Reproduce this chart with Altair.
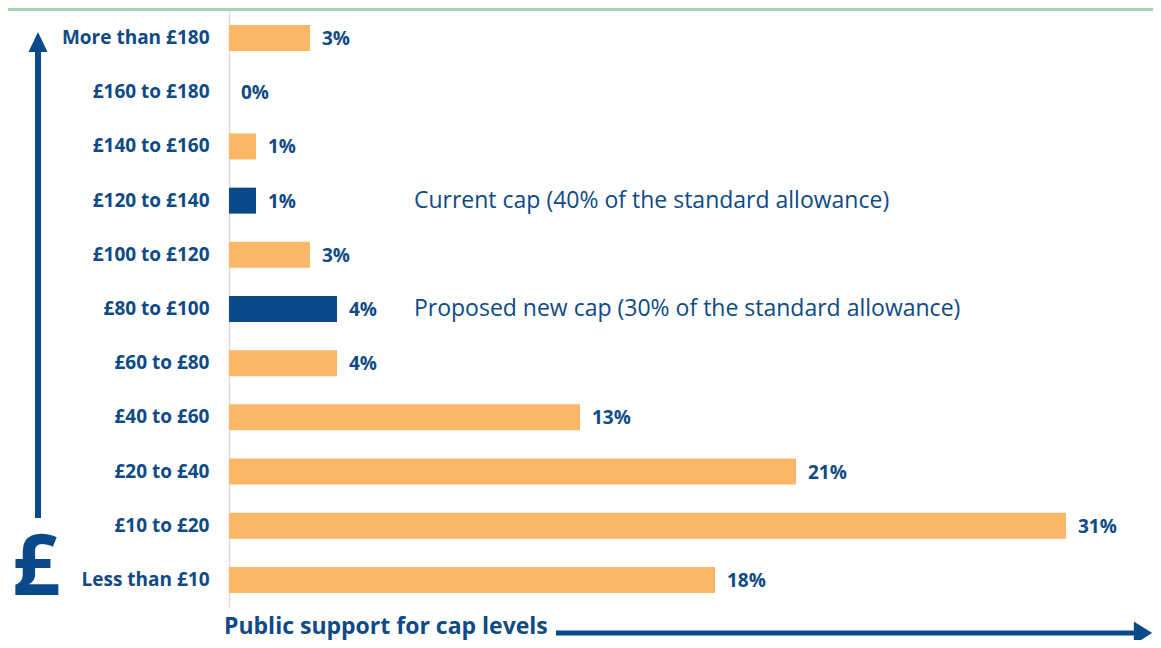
import altair as alt
import pandas as pd

categories = ["More than £180", "£160 to £180", "£140 to £160", "£120 to £140",
              "£100 to £120", "£80 to £100", "£60 to £80", "£40 to £60",
              "£20 to £40", "£10 to £20", "Less than £10"]
values = [3, 0, 1, 1, 3, 4, 4, 13, 21, 31, 18]
highlight = ["no", "no", "no", "yes", "no", "yes", "no", "no", "no", "no", "no"]
labels = [f"{v}%" for v in values]

notes_cat = ["£120 to £140", "£80 to £100"]
notes_text = ["Current cap (40% of the standard allowance)",
              "Proposed new cap (30% of the standard allowance)"]
notes_x = [6.85, 6.85]

x_title = "Public support for cap levels"

BLUE = "#0b4a8a"
ORANGE = "#fbb766"
TEXT = "#0d4a86"
FONT = "Open Sans"

df = pd.DataFrame({"cat": categories, "val": values, "hl": highlight, "lab": labels})
notes = pd.DataFrame({"cat": notes_cat, "txt": notes_text, "x": notes_x})
one = pd.DataFrame({"a": [0]})

xs = alt.Scale(domain=[0, 34])
ys = alt.Scale(domain=categories, paddingInner=0.52, paddingOuter=0.26)

bars = alt.Chart(df).mark_bar().encode(
    y=alt.Y("cat:N", scale=ys, sort=categories,
            axis=alt.Axis(title=None, ticks=False, labelPadding=20, labelFontSize=19,
                          labelFontWeight="bold", labelColor=TEXT, labelFont=FONT,
                          domainColor="#dcdcdc", domainWidth=1.5, grid=False)),
    x=alt.X("val:Q", scale=xs, axis=None),
    color=alt.Color("hl:N", scale=alt.Scale(domain=["no", "yes"], range=[ORANGE, BLUE]), legend=None),
)

vlabels = alt.Chart(df).mark_text(align="left", baseline="middle", dx=12, dy=1,
                                  fontSize=19, fontWeight="bold", color=TEXT, font=FONT).encode(
    y=alt.Y("cat:N", scale=ys, sort=categories),
    x=alt.X("val:Q", scale=xs),
    text="lab:N",
)

ann = alt.Chart(notes).mark_text(align="left", baseline="middle", fontSize=23,
                                 color=TEXT, font=FONT).encode(
    y=alt.Y("cat:N", scale=ys, sort=categories),
    x=alt.X("x:Q", scale=xs),
    text="txt:N",
)

title_txt = alt.Chart(one).mark_text(align="left", baseline="alphabetic", fontSize=23,
                                     fontWeight="bold", color=TEXT, font=FONT,
                                     text=x_title).encode(
    x=alt.value(-5), y=alt.value(623))

h_line = alt.Chart(one).mark_rule(color=BLUE, strokeWidth=5).encode(
    x=alt.value(327), x2=alt.value(908), y=alt.value(622))
h_head = alt.Chart(one).mark_point(shape="M-0.8,-1L0.8,0L-0.8,1Z", filled=True, opacity=1,
                                   color=BLUE, size=529).encode(
    x=alt.value(914), y=alt.value(622))

v_line = alt.Chart(one).mark_rule(color=BLUE, strokeWidth=6).encode(
    x=alt.value(-191), y=alt.value(38), y2=alt.value(507))
v_head = alt.Chart(one).mark_point(shape="M0,-1L0.95,1L-0.95,1Z", filled=True, opacity=1,
                                   color=BLUE, size=400).encode(
    x=alt.value(-191), y=alt.value(31))

pound = alt.Chart(one).mark_text(align="center", baseline="alphabetic", fontSize=84,
                                 fontWeight="bold", color=BLUE, font=FONT, text="£").encode(
    x=alt.value(-193), y=alt.value(584))

green = alt.Chart(one).mark_rect(color="#a5d6ae").encode(
    x=alt.value(-221), x2=alt.value(924), y=alt.value(-3), y2=alt.value(0))

chart = alt.layer(green, bars, vlabels, ann, title_txt, h_line, h_head, v_line, v_head, pound).properties(
    width=918, height=596,
    autosize=alt.AutoSizeParams(type="none"),
    padding={"left": 221, "top": 3, "right": 6, "bottom": 33},
    background="white",
).configure_view(stroke=None)

chart.save("out.html", embed_options={"renderer": "svg", "actions": False})
